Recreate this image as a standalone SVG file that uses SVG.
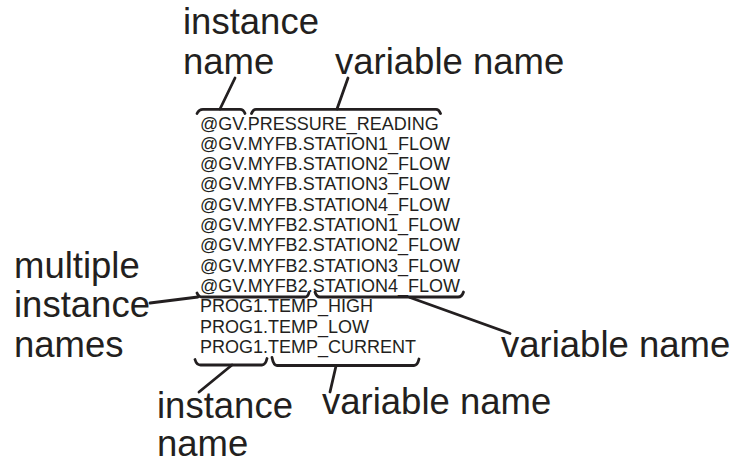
<svg xmlns="http://www.w3.org/2000/svg" width="733" height="463" viewBox="0 0 733 463">
<style>
.code{font-family:"Liberation Sans",Arial,sans-serif;font-size:18px;fill:#231f20}
.lbl{font-family:"Liberation Sans",Arial,sans-serif;font-size:36.5px;fill:#231f20}
.br{fill:none;stroke:#231f20;stroke-width:2.8;stroke-linecap:round;stroke-linejoin:round}
</style>
<rect width="733" height="463" fill="#fff"/>
<g id="code-list">
<text class="code" x="200" y="129.5">@GV.PRESSURE_READING</text>
<text class="code" x="200" y="149.8">@GV.MYFB.STATION1_FLOW</text>
<text class="code" x="200" y="170.1">@GV.MYFB.STATION2_FLOW</text>
<text class="code" x="200" y="190.4">@GV.MYFB.STATION3_FLOW</text>
<text class="code" x="200" y="210.7">@GV.MYFB.STATION4_FLOW</text>
<text class="code" x="200" y="231">@GV.MYFB2.STATION1_FLOW</text>
<text class="code" x="200" y="251.3">@GV.MYFB2.STATION2_FLOW</text>
<text class="code" x="200" y="271.6">@GV.MYFB2.STATION3_FLOW</text>
<text class="code" x="200" y="291.9">@GV.MYFB2.STATION4_FLOW</text>
<text class="code" x="200" y="312.2">PROG1.TEMP_HIGH</text>
<text class="code" x="200" y="332.5">PROG1.TEMP_LOW</text>
<text class="code" x="200" y="352.8">PROG1.TEMP_CURRENT</text>
</g>
<g id="label-top-instance"><text class="lbl" x="183" y="33.5">instance</text><text class="lbl" x="183" y="74">name</text></g>
<g id="label-top-variable"><text class="lbl" x="335" y="74">variable name</text></g>
<g id="label-multiple"><text class="lbl" x="14" y="278">multiple</text><text class="lbl" x="14" y="317">instance</text><text class="lbl" x="14" y="357">names</text></g>
<g id="label-right-variable"><text class="lbl" x="501" y="357">variable name</text></g>
<g id="label-bottom-instance"><text class="lbl" x="157" y="418">instance</text><text class="lbl" x="157" y="456">name</text></g>
<g id="label-bottom-variable"><text class="lbl" x="322" y="414">variable name</text></g>
<g id="connectors">
<path class="br" d="M197,113.5 Q199,109.3 203,109.3 L240,109.3 Q243.5,109.3 245,113.5"/>
<path class="br" d="M251.5,113.5 Q253,109.3 256,109.3 L436,109.3 Q439,109.3 440.5,113.5"/>
<path class="br" d="M220,109 L235,78"/>
<path class="br" d="M337,109 L348,78"/>
<path class="br" d="M197,293 Q198.5,297 202,297 L305,297 Q308,297 309,292.5"/>
<path class="br" d="M315,292 Q316.5,297 320,297 L458,297 Q462,297 463.5,292"/>
<path class="br" d="M150,303 L198,297"/>
<path class="br" d="M410,297.5 L510,333.5"/>
<path class="br" d="M195,359.5 Q196.5,365 200.5,365 L262,365 Q265.5,365 267,358.5"/>
<path class="br" d="M272,357.5 Q273.5,365.5 277,365.5 L414,365.5 Q417.5,365.5 419,359"/>
<path class="br" d="M232,365 L199,392"/>
<path class="br" d="M336,366 L330,392"/>
</g>
</svg>
